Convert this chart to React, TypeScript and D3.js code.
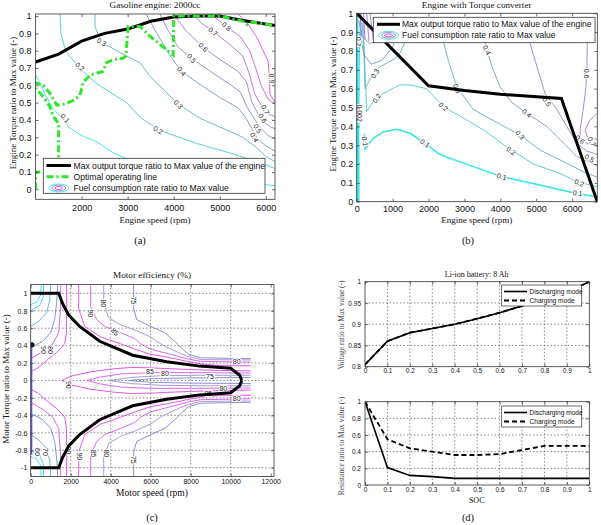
import React, { useEffect, useRef } from 'react';
import * as d3 from 'd3';

type Pt = [number, number];
type Lbl = { at: Pt; t: string; a: number };

// ---------- (a) Gasoline engine: 2000cc  [rpm, torque ratio] ----------
const engineMaxTorque: Pt[] = [
  [1000, 0.735], [1500, 0.78], [2000, 0.855], [2500, 0.9], [3000, 0.925],
  [3500, 0.97], [4000, 0.995], [4500, 1.0], [5000, 1.0], [5500, 0.975], [6200, 0.945],
];
const optimalLine: Pt[] = [
  [1000, 0], [1000, 0.1], [1500, 0.1], [1500, 0.38], [1384, 0.42], [1312, 0.477],
  [1167, 0.534], [1000, 0.583], [1000, 0.615], [1167, 0.6], [1312, 0.554], [1460, 0.486],
  [1600, 0.49], [1800, 0.51], [1960, 0.54], [2035, 0.62], [2200, 0.66], [2460, 0.68],
  [2540, 0.73], [2700, 0.75], [2900, 0.756], [2960, 0.77], [3010, 0.94], [3265, 0.94],
  [3500, 0.88], [3987, 0.775], [4000, 1.0], [4500, 1.0], [5000, 1.0], [5500, 0.97],
  [5600, 0.95], [5700, 0.965], [6200, 0.945],
];
const fuelA01: Pt[] = [[1000, 0.66], [1150, 0.58], [1384, 0.46], [1640, 0.39], [1710, 0.36], [2000, 0.31], [2325, 0.275], [2690, 0.21], [3200, 0.15], [4000, 0.1], [5000, 0.06], [6200, 0.02]];
const fuelA02: Pt[] = [[1530, 1.012], [1550, 0.9], [1650, 0.8], [1800, 0.75], [1960, 0.7], [2325, 0.61], [2976, 0.5], [3300, 0.41], [3698, 0.34], [4495, 0.265], [5217, 0.21], [5800, 0.16], [6200, 0.12]];
const fuelA03: Pt[] = [[2290, 1.012], [2290, 0.94], [2430, 0.85], [2760, 0.8], [3265, 0.73], [3490, 0.65], [3800, 0.57], [4100, 0.49], [4570, 0.41], [5000, 0.36], [5500, 0.3], [5800, 0.24], [6000, 0.19], [6200, 0.16]];
const fuelA04: Pt[] = [[3400, 1.012], [3590, 0.92], [3900, 0.78], [4169, 0.68], [4600, 0.6], [5000, 0.53], [5400, 0.47], [5550, 0.42], [5800, 0.3], [6000, 0.25], [6200, 0.22]];
const fuelA05: Pt[] = [[3700, 1.012], [3850, 0.93], [4100, 0.82], [4386, 0.756], [4800, 0.68], [5200, 0.61], [5450, 0.56], [5600, 0.47], [5868, 0.36], [6050, 0.31], [6200, 0.29]];
const fuelA06: Pt[] = [[4000, 1.012], [4250, 0.92], [4640, 0.82], [5000, 0.75], [5400, 0.68], [5580, 0.62], [5700, 0.5], [5905, 0.4], [6100, 0.36], [6200, 0.35]];
const fuelA07: Pt[] = [[4400, 1.012], [4600, 0.96], [4860, 0.91], [5200, 0.84], [5500, 0.77], [5650, 0.66], [5760, 0.55], [5950, 0.46], [6100, 0.43], [6200, 0.42]];
const fuelA08: Pt[] = [[4800, 1.012], [5000, 0.97], [5145, 0.94], [5450, 0.88], [5650, 0.8], [5780, 0.7], [5900, 0.6], [6050, 0.52], [6200, 0.49]];
const fuelA09: Pt[] = [[5400, 1.012], [5600, 0.96], [5800, 0.88], [5940, 0.8], [6050, 0.74], [6080, 0.64], [6090, 0.55], [6200, 0.5]];
const fuelALabels: Lbl[] = [
  { at: [1640, 0.41], t: '0.1', a: 45 }, { at: [1963, 0.707], t: '0.2', a: 40 },
  { at: [3662, 0.342], t: '0.2', a: 30 }, { at: [2434, 0.85], t: '0.3', a: 30 },
  { at: [4100, 0.49], t: '0.3', a: 45 }, { at: [4169, 0.68], t: '0.4', a: 50 },
  { at: [5750, 0.3], t: '0.4', a: 60 }, { at: [4386, 0.756], t: '0.5', a: 50 },
  { at: [5820, 0.35], t: '0.5', a: 60 }, { at: [4640, 0.82], t: '0.6', a: 45 },
  { at: [5930, 0.41], t: '0.6', a: 60 }, { at: [4857, 0.91], t: '0.7', a: 40 },
  { at: [5990, 0.46], t: '0.7', a: 60 }, { at: [5145, 0.94], t: '0.8', a: 40 },
  { at: [6120, 0.64], t: '0.9', a: 90 },
];
const engineSpeedTicksA = [2000, 3000, 4000, 5000, 6000];
const torqueTicks = [0, 0.1, 0.2, 0.3, 0.4, 0.5, 0.6, 0.7, 0.8, 0.9, 1];

// ---------- (b) Engine with torque converter ----------
const tcMaxTorque: Pt[] = [[0, 1], [2000, 0.615], [3000, 0.59], [4000, 0.57], [5700, 0.548], [6700, 0]];
const fuelB002: Pt[] = [[20, 0], [18, 0.5], [25, 1]];
const fuelB01edge: Pt[] = [[60, 0], [55, 0.4], [70, 0.8], [120, 1]];
const fuelB01: Pt[] = [[215, 0.36], [231, 0.28], [463, 0.336], [742, 0.37], [1114, 0.384], [1485, 0.363], [1900, 0.31], [2320, 0.25], [3250, 0.186], [4040, 0.133], [5100, 0.089], [6030, 0.048], [6700, 0.025]];
const fuelB02: Pt[] = [[180, 0.95], [230, 0.7], [279, 0.48], [450, 0.53], [742, 0.575], [1206, 0.62], [1485, 0.62], [1950, 0.6], [2410, 0.505], [3064, 0.434], [3621, 0.37], [4178, 0.29], [4920, 0.2], [5663, 0.15], [6128, 0.106], [6700, 0.08]];
const fuelB03: Pt[] = [[150, 0.95], [200, 0.8], [231, 0.6], [400, 0.66], [649, 0.716], [1067, 0.76], [1206, 0.79], [1400, 0.87], [2000, 0.92], [2400, 0.86], [2550, 0.75], [2786, 0.61], [3248, 0.49], [4000, 0.41], [4549, 0.354], [5106, 0.274], [5850, 0.204], [6407, 0.15], [6700, 0.13]];
const fuelB04: Pt[] = [[3450, 0.9], [3574, 0.84], [3760, 0.72], [3992, 0.61], [4300, 0.53], [4735, 0.47], [5292, 0.4], [5663, 0.33], [6128, 0.24], [6700, 0.19]];
const fuelB05: Pt[] = [[4750, 0.9], [4827, 0.84], [5014, 0.72], [5245, 0.575], [5571, 0.49], [5850, 0.4], [6128, 0.31], [6400, 0.27], [6700, 0.25]];
const fuelB06: Pt[] = [[6450, 0.9], [6420, 0.84], [6410, 0.7], [6380, 0.6], [6300, 0.48], [6220, 0.38], [6230, 0.34], [6400, 0.31], [6700, 0.295]];
const fuelB07: Pt[] = [[6700, 0.47], [6480, 0.43], [6360, 0.38], [6420, 0.345], [6700, 0.33]];
const fuelBFan: { level: number; pts: Pt[] }[] = [
  { level: 0.9, pts: [[100, 1.0], [130, 0.87]] },
  { level: 0.8, pts: [[190, 1.0], [230, 0.86]] },
  { level: 0.7, pts: [[280, 1.0], [340, 0.85]] },
  { level: 0.6, pts: [[370, 1.0], [460, 0.86]] },
  { level: 0.5, pts: [[60, 0.96], [150, 0.88], [350, 0.84], [600, 0.85]] },
  { level: 0.4, pts: [[90, 0.9], [200, 0.78], [400, 0.73], [700, 0.75], [1000, 0.82], [1100, 0.88]] },
];
const fuelBLabels: Lbl[] = [
  { at: [1902, 0.31], t: '0.1', a: 35 }, { at: [4039, 0.133], t: '0.1', a: 18 },
  { at: [6150, 0.045], t: '0.1', a: 8 }, { at: [231, 0.32], t: '0.1', a: 80 },
  { at: [2412, 0.504], t: '0.2', a: 40 }, { at: [4300, 0.27], t: '0.2', a: 35 },
  { at: [6200, 0.1], t: '0.2', a: 22 }, { at: [557, 0.55], t: '0.2', a: -55 },
  { at: [510, 0.68], t: '0.3', a: -60 }, { at: [2790, 0.6], t: '0.3', a: 65 },
  { at: [4549, 0.354], t: '0.3', a: 45 }, { at: [3621, 0.805], t: '0.4', a: 65 },
  { at: [4735, 0.47], t: '0.4', a: 40 }, { at: [5292, 0.53], t: '0.5', a: 55 },
  { at: [6480, 0.23], t: '0.5', a: 30 }, { at: [6407, 0.68], t: '0.6', a: 90 },
  { at: [6220, 0.33], t: '0.6', a: 40 }, { at: [6546, 0.32], t: '0.7', a: 60 },
  { at: [60, 0.85], t: '0.2', a: 90 }, { at: [64, 0.47], t: '0.002', a: 90 },
];
const engineSpeedTicksB = [0, 1000, 2000, 3000, 4000, 5000, 6000];

// ---------- (c) Motor efficiency (%) ----------
const motorMaxTop: Pt[] = [[0, 1], [1400, 1], [1600, 0.88], [1900, 0.75], [2450, 0.62], [3450, 0.45], [5100, 0.29], [6800, 0.215], [8450, 0.165], [10000, 0.14], [10450, 0.06], [10550, 0]];
const motorMaxBottom: Pt[] = [[10550, 0], [10450, -0.06], [10000, -0.14], [8450, -0.165], [6800, -0.215], [5100, -0.29], [3450, -0.45], [2450, -0.62], [1900, -0.75], [1600, -0.88], [1400, -1], [0, -1]];
const effU90a: Pt[] = [[1800, 1.1], [1800, 0.85], [1790, 0.55], [1700, 0.42], [1300, 0.32], [900, 0.25], [400, 0.15], [0, 0.1]];
const effL90a: Pt[] = [[1800, -1.1], [1800, -0.85], [1790, -0.55], [1700, -0.42], [1300, -0.32], [900, -0.25], [400, -0.15], [0, -0.1]];
const effU90b: Pt[] = [[2400, 1.1], [2400, 0.82], [2700, 0.62], [3500, 0.5], [4500, 0.42], [5200, 0.36], [6000, 0.3], [7000, 0.26], [7800, 0.22], [8500, 0.19], [9500, 0.17], [11000, 0.17]];
const effL90b: Pt[] = [[2400, -1.1], [2400, -0.82], [2700, -0.62], [3500, -0.5], [4500, -0.42], [5200, -0.36], [6000, -0.3], [7000, -0.26], [7800, -0.22], [8500, -0.19], [9500, -0.17], [11000, -0.17]];
const effU85: Pt[] = [[3000, 1.1], [3000, 0.85], [3300, 0.7], [3700, 0.62], [4500, 0.55], [5200, 0.48], [5500, 0.42], [6000, 0.36], [7000, 0.3], [7800, 0.25], [8500, 0.22], [11000, 0.21]];
const effL85: Pt[] = [[3000, -1.1], [3000, -0.85], [3300, -0.7], [3700, -0.62], [4500, -0.55], [5200, -0.48], [5500, -0.42], [6000, -0.36], [7000, -0.3], [7800, -0.25], [8500, -0.22], [11000, -0.21]];
const effU80: Pt[] = [[3650, 1.1], [3650, 0.88], [3900, 0.72], [4500, 0.64], [5200, 0.58], [6000, 0.5], [6500, 0.42], [7000, 0.36], [7800, 0.28], [8500, 0.24], [11000, 0.235]];
const effL80: Pt[] = [[3650, -1.1], [3650, -0.88], [3900, -0.72], [4500, -0.64], [5200, -0.58], [6000, -0.5], [6500, -0.42], [7000, -0.36], [7800, -0.28], [8500, -0.24], [11000, -0.235]];
const effU75: Pt[] = [[5150, 1.1], [5150, 0.82], [5300, 0.7], [6000, 0.62], [6700, 0.55], [7200, 0.45], [7600, 0.36], [7900, 0.3], [8500, 0.26], [11000, 0.25]];
const effL75: Pt[] = [[5150, -1.1], [5150, -0.82], [5300, -0.7], [6000, -0.62], [6700, -0.55], [7200, -0.45], [7600, -0.36], [7900, -0.3], [8500, -0.26], [11000, -0.25]];
const effV90: Pt[] = [[11000, 0.11], [9500, 0.115], [8000, 0.125], [6000, 0.145], [5000, 0.15], [4000, 0.13], [3000, 0.1], [2000, 0.05], [1550, 0], [2000, -0.05], [3000, -0.1], [4000, -0.13], [5000, -0.15], [6000, -0.145], [8000, -0.125], [9500, -0.115], [11000, -0.11]];
const effV85: Pt[] = [[11000, 0.085], [8000, 0.09], [6000, 0.09], [4500, 0.075], [3500, 0.04], [2800, 0], [3500, -0.04], [4500, -0.075], [6000, -0.09], [8000, -0.09], [11000, -0.085]];
const effV80: Pt[] = [[11000, 0.06], [8500, 0.06], [6500, 0.055], [5000, 0.035], [3900, 0], [5000, -0.035], [6500, -0.055], [8500, -0.06], [11000, -0.06]];
const effV75: Pt[] = [[11000, 0.035], [8000, 0.03], [6000, 0.02], [4900, 0], [6000, -0.02], [8000, -0.03], [11000, -0.035]];
const effU80L: Pt[] = [[1500, 1.1], [1480, 0.8], [1400, 0.55], [1100, 0.42], [600, 0.33], [0, 0.25]];
const effL80L: Pt[] = [[1500, -1.1], [1480, -0.8], [1400, -0.55], [1100, -0.42], [600, -0.33], [0, -0.25]];
const effU70: Pt[] = [[1350, 1.1], [1300, 0.9], [1200, 0.7], [1000, 0.55], [600, 0.45], [200, 0.4], [0, 0.38]];
const effL70: Pt[] = [[1350, -1.1], [1300, -0.9], [1200, -0.7], [1000, -0.55], [600, -0.45], [200, -0.4], [0, -0.38]];
const effU60: Pt[] = [[1000, 1.1], [950, 0.92], [800, 0.78], [400, 0.68], [0, 0.62]];
const effL60: Pt[] = [[1000, -1.1], [950, -0.92], [800, -0.78], [400, -0.68], [0, -0.62]];
const effU50: Pt[] = [[650, 1.1], [620, 0.95], [450, 0.86], [0, 0.8]];
const effL50: Pt[] = [[650, -1.1], [620, -0.95], [450, -0.86], [0, -0.8]];
const effU40: Pt[] = [[520, 1.1], [500, 0.98], [300, 0.9], [0, 0.87]];
const effL40: Pt[] = [[520, -1.1], [500, -0.98], [300, -0.9], [0, -0.87]];
const effEdge: Pt[] = [[40, 0.42], [40, -0.85]];
const effLabels: Lbl[] = [
  { at: [2965, 0.77], t: '90', a: 90 }, { at: [3630, 0.885], t: '80', a: 90 },
  { at: [5130, 0.92], t: '75', a: 90 }, { at: [4215, 0.56], t: '85', a: 45 },
  { at: [630, 0.35], t: '90', a: 90 }, { at: [965, 0.35], t: '80', a: 90 },
  { at: [5965, 0.1], t: '85', a: 0 }, { at: [6715, 0.083], t: '80', a: 0 },
  { at: [8965, 0.044], t: '75', a: 0 }, { at: [10300, 0.216], t: '80', a: 0 },
  { at: [9630, -0.09], t: '80', a: 0 }, { at: [8880, -0.147], t: '85', a: 0 },
  { at: [10300, -0.204], t: '80', a: 0 }, { at: [1880, -0.05], t: '90', a: 90 },
  { at: [3800, -0.835], t: '80', a: 90 }, { at: [3130, -0.835], t: '85', a: 90 },
  { at: [2430, -0.87], t: '90', a: 90 }, { at: [5130, -0.91], t: '75', a: 90 },
  { at: [1880, -0.8], t: '90', a: 90 }, { at: [350, -0.82], t: '60', a: 90 },
  { at: [750, -0.82], t: '70', a: 90 },
];
const motorSpeedTicks = [0, 2000, 4000, 6000, 8000, 10000, 12000];
const motorTorqueTicks = [-1, -0.8, -0.6, -0.4, -0.2, 0, 0.2, 0.4, 0.6, 0.8, 1];

// ---------- (d) Li-ion battery: 8 Ah ----------
const soc = [0, 0.1, 0.2, 0.3, 0.4, 0.5, 0.6, 0.7, 0.8, 0.9, 1];
const voltageDischarge = [0.805, 0.86, 0.88, 0.89, 0.9, 0.913, 0.927, 0.943, 0.958, 0.975, 1.0];
const voltageCharge = [0.805, 0.86, 0.88, 0.89, 0.9, 0.913, 0.927, 0.943, 0.958, 0.975, 1.0];
const resistDischarge = [1.0, 0.21, 0.115, 0.1, 0.08, 0.08, 0.08, 0.08, 0.08, 0.08, 0.08];
const resistCharge = [1.0, 0.55, 0.44, 0.4, 0.36, 0.36, 0.37, 0.42, 0.47, 0.47, 0.47];
const voltageTicks = [0.8, 0.85, 0.9, 0.95, 1];
const resistTicks = [0, 0.2, 0.4, 0.6, 0.8, 1];

const W = 601;
const H = 525;
const SANS = '"Liberation Sans", Arial, sans-serif';
const SERIF = '"Liberation Serif", "Times New Roman", serif';

const fuelColor = d3.interpolateRgbBasis(['#2ee8e8', '#44cccc', '#5fb0c0', '#7c98c0', '#8a88bc', '#9c80cc', '#b070d4', '#c060d8', '#e448e4']);
const effColor: Record<string, string> = {
  '90': '#e044e8', '85': '#d45ae6', '80': '#a090d0', '75': '#7c86c8',
  '70': '#6a8ed4', '60': '#50aed8', '50': '#38d4e4', '40': '#28e8e8',
};

function axes(g: any, x: any, y: any, xt: number[], yt: number[], o: any) {
  const [xl, xr] = x.range();
  const [yb, ytop] = y.range();
  const style = (s: any) => {
    s.select('.domain').remove();
    s.selectAll('line').attr('stroke', '#333').attr('stroke-width', 0.7);
    s.selectAll('text').attr('font-family', SANS).attr('font-size', o.fs).attr('fill', '#111');
  };
  g.append('g').attr('transform', `translate(0,${yb})`)
    .call(d3.axisBottom(x).tickValues(xt).tickSize(-3).tickPadding(o.px).tickFormat((d: any) => String(d)))
    .call(style);
  g.append('g').attr('transform', `translate(0,${ytop})`)
    .call(d3.axisTop(x).tickValues(xt).tickSize(-3).tickFormat(() => ''))
    .call(style);
  g.append('g').attr('transform', `translate(${xl},0)`)
    .call(d3.axisLeft(y).tickValues(yt).tickSize(-3).tickPadding(o.py).tickFormat((d: any) => String(d)))
    .call(style);
  g.append('g').attr('transform', `translate(${xr},0)`)
    .call(d3.axisRight(y).tickValues(yt).tickSize(-3).tickFormat(() => ''))
    .call(style);
  g.append('rect')
    .attr('x', xl).attr('y', ytop).attr('width', xr - xl).attr('height', yb - ytop)
    .attr('fill', 'none').attr('stroke', '#333').attr('stroke-width', 0.8);
}

function grid(g: any, x: any, y: any, xt: number[], yt: number[]) {
  const [xl, xr] = x.range();
  const [yb, ytop] = y.range();
  g.append('g').selectAll('line').data(xt).join('line')
    .attr('x1', (d: number) => x(d)).attr('x2', (d: number) => x(d))
    .attr('y1', ytop).attr('y2', yb)
    .attr('stroke', '#555').attr('stroke-width', 0.7).attr('stroke-dasharray', '1.5,2');
  g.append('g').selectAll('line').data(yt).join('line')
    .attr('x1', xl).attr('x2', xr)
    .attr('y1', (d: number) => y(d)).attr('y2', (d: number) => y(d))
    .attr('stroke', '#555').attr('stroke-width', 0.7).attr('stroke-dasharray', '1.5,2');
}

function clip(svg: any, id: string, x: any, y: any) {
  const [xl, xr] = x.range();
  const [yb, ytop] = y.range();
  svg.append('clipPath').attr('id', id).append('rect')
    .attr('x', xl).attr('y', ytop).attr('width', xr - xl).attr('height', yb - ytop);
  return svg.append('g').attr('clip-path', `url(#${id})`);
}

function labels(g: any, x: any, y: any, list: Lbl[], fs: number) {
  g.append('g').selectAll('text').data(list).join('text')
    .attr('transform', (d: Lbl) => `translate(${x(d.at[0])},${y(d.at[1])}) rotate(${d.a})`)
    .attr('text-anchor', 'middle').attr('dy', '0.35em')
    .attr('font-family', SANS).attr('font-size', fs).attr('fill', '#222')
    .attr('stroke', '#fff').attr('stroke-width', 2.2).attr('paint-order', 'stroke')
    .text((d: Lbl) => d.t);
}

function text(g: any, x: number, y: number, s: string, fs: number, opts: any = {}) {
  const t = g.append('text')
    .attr('x', x).attr('y', y)
    .attr('text-anchor', opts.anchor || 'middle')
    .attr('font-family', opts.family || SERIF)
    .attr('font-size', fs).attr('fill', opts.fill || '#111')
    .text(s);
  if (opts.rotate) t.attr('transform', `rotate(-90,${x},${y})`);
  if (opts.dy) t.attr('dy', opts.dy);
  return t;
}

function contourIcon(g: any, cx: number, cy: number) {
  g.append('ellipse').attr('cx', cx).attr('cy', cy).attr('rx', 10).attr('ry', 4).attr('fill', 'none').attr('stroke', '#3ee0e8').attr('stroke-width', 0.9);
  g.append('ellipse').attr('cx', cx).attr('cy', cy).attr('rx', 7).attr('ry', 2.8).attr('fill', 'none').attr('stroke', '#8a8ad0').attr('stroke-width', 0.9);
  g.append('ellipse').attr('cx', cx).attr('cy', cy).attr('rx', 3.8).attr('ry', 1.5).attr('fill', 'none').attr('stroke', '#e040e0').attr('stroke-width', 0.9);
}

const App = () => {
  const svgRef = useRef<SVGSVGElement>(null);

  useEffect(() => {
    const svg = d3.select(svgRef.current);
    svg.selectAll('*').remove();
    svg.append('rect').attr('width', W).attr('height', H).attr('fill', '#fff');

    // ================= (a) =================
    const ax = d3.scaleLinear().domain([1000, 6200]).range([35.6, 275]);
    const ay = d3.scaleLinear().domain([-0.058, 1.012]).range([199.3, 14]);
    const la = d3.line<Pt>().x(d => ax(d[0])).y(d => ay(d[1]));
    const ga = clip(svg, 'clip-a', ax, ay);
    const fuelA = [fuelA01, fuelA02, fuelA03, fuelA04, fuelA05, fuelA06, fuelA07, fuelA08, fuelA09];
    fuelA.forEach((pts, i) => {
      ga.append('path').datum(pts).attr('d', la).attr('fill', 'none')
        .attr('stroke', fuelColor(i / 8)).attr('stroke-width', 0.9);
    });
    labels(ga, ax, ay, fuelALabels, 7);
    ga.append('path').datum(engineMaxTorque).attr('d', la).attr('fill', 'none')
      .attr('stroke', '#000').attr('stroke-width', 3);
    ga.append('path').datum(optimalLine).attr('d', la).attr('fill', 'none')
      .attr('stroke', '#2ee62e').attr('stroke-width', 3).attr('stroke-dasharray', '7,3,2,3');
    axes(svg, ax, ay, engineSpeedTicksA, torqueTicks, { fs: 9, px: 5.5, py: 4 });
    text(svg, 155, 8, 'Gasoline engine: 2000cc', 9.2);
    text(svg, 155, 223, 'Engine speed (rpm)', 9);
    text(svg, 16, 103, 'Engine Torque ratio to Max value (-)', 9, { rotate: true });
    text(svg, 140, 244, '(a)', 10.5);
    // legend (a)
    const lga = svg.append('g');
    lga.append('rect').attr('x', 43.3).attr('y', 158.3).attr('width', 221.7).attr('height', 35)
      .attr('fill', '#fff').attr('stroke', '#333').attr('stroke-width', 0.8);
    lga.append('line').attr('x1', 46.5).attr('x2', 71).attr('y1', 165.5).attr('y2', 165.5)
      .attr('stroke', '#000').attr('stroke-width', 3);
    lga.append('line').attr('x1', 46.5).attr('x2', 71).attr('y1', 176.8).attr('y2', 176.8)
      .attr('stroke', '#2ee62e').attr('stroke-width', 3).attr('stroke-dasharray', '7,3,2,3');
    contourIcon(lga, 58.7, 188);
    text(lga, 73.5, 165.5, 'Max output torque ratio to Max value of the engine', 8.6, { anchor: 'start', family: SANS, dy: '0.35em' });
    text(lga, 73.5, 176.8, 'Optimal operating line', 8.6, { anchor: 'start', family: SANS, dy: '0.35em' });
    text(lga, 73.5, 188, 'Fuel consumption rate ratio to Max value', 8.6, { anchor: 'start', family: SANS, dy: '0.35em' });

    // ================= (b) =================
    const bx = d3.scaleLinear().domain([0, 6700]).range([356.7, 597.3]);
    const by = d3.scaleLinear().domain([0, 1]).range([201.7, 13.3]);
    const lb = d3.line<Pt>().x(d => bx(d[0])).y(d => by(d[1]));
    const gb = clip(svg, 'clip-b', bx, by);
    const fuelB: { level: number; pts: Pt[] }[] = [
      { level: 0.02, pts: fuelB002 }, { level: 0.05, pts: fuelB01edge },
      { level: 0.1, pts: fuelB01 }, { level: 0.2, pts: fuelB02 }, { level: 0.3, pts: fuelB03 },
      { level: 0.4, pts: fuelB04 }, { level: 0.5, pts: fuelB05 }, { level: 0.6, pts: fuelB06 },
      { level: 0.7, pts: fuelB07 }, ...fuelBFan,
    ];
    fuelB.forEach(c => {
      gb.append('path').datum(c.pts).attr('d', lb).attr('fill', 'none')
        .attr('stroke', fuelColor(Math.max(0, (c.level - 0.1) / 0.8)))
        .attr('stroke-width', c.level <= 0.1 ? 1.5 : 0.9);
    });
    labels(gb, bx, by, fuelBLabels, 7);
    gb.append('path').datum(tcMaxTorque).attr('d', lb).attr('fill', 'none')
      .attr('stroke', '#000').attr('stroke-width', 3);
    axes(svg, bx, by, engineSpeedTicksB, torqueTicks, { fs: 9, px: 3.5, py: 3.4 });
    text(svg, 476.7, 8, 'Engine with Torque converter', 9.2);
    text(svg, 476.7, 223, 'Engine speed (rpm)', 9);
    text(svg, 336, 104, 'Engine Torque ratio to Max. value (-)', 9, { rotate: true });
    text(svg, 468, 244, '(b)', 10.5);
    const lgb = svg.append('g');
    lgb.append('rect').attr('x', 373.3).attr('y', 17.3).attr('width', 221.7).attr('height', 25.4)
      .attr('fill', '#fff').attr('stroke', '#333').attr('stroke-width', 0.8);
    lgb.append('line').attr('x1', 377).attr('x2', 400).attr('y1', 24.3).attr('y2', 24.3)
      .attr('stroke', '#000').attr('stroke-width', 3);
    contourIcon(lgb, 388.5, 35.3);
    text(lgb, 402, 24.3, 'Max output torque ratio to Max value of the engine', 8.5, { anchor: 'start', family: SANS, dy: '0.35em' });
    text(lgb, 402, 35.3, 'Fuel consumption rate ratio to Max value', 8.5, { anchor: 'start', family: SANS, dy: '0.35em' });

    // ================= (c) =================
    const cx = d3.scaleLinear().domain([0, 12165]).range([30.7, 274]);
    const cy = d3.scaleLinear().domain([-1.1, 1.1]).range([476.4, 284.6]);
    const lc = d3.line<Pt>().x(d => cx(d[0])).y(d => cy(d[1]));
    grid(svg, cx, cy, [2000, 4000, 6000, 8000, 10000], motorTorqueTicks);
    const gc = clip(svg, 'clip-c', cx, cy);
    const eff: { lv: string; pts: Pt[] }[] = [
      { lv: '40', pts: effU40 }, { lv: '40', pts: effL40 },
      { lv: '50', pts: effU50 }, { lv: '50', pts: effL50 },
      { lv: '60', pts: effU60 }, { lv: '60', pts: effL60 },
      { lv: '70', pts: effU70 }, { lv: '70', pts: effL70 },
      { lv: '85', pts: effU80L }, { lv: '85', pts: effL80L },
      { lv: '90', pts: effU90a }, { lv: '90', pts: effL90a },
      { lv: '90', pts: effU90b }, { lv: '90', pts: effL90b },
      { lv: '85', pts: effU85 }, { lv: '85', pts: effL85 },
      { lv: '80', pts: effU80 }, { lv: '80', pts: effL80 },
      { lv: '75', pts: effU75 }, { lv: '75', pts: effL75 },
      { lv: '90', pts: effV90 }, { lv: '85', pts: effV85 },
      { lv: '80', pts: effV80 }, { lv: '75', pts: effV75 },
    ];
    eff.forEach(c => {
      gc.append('path').datum(c.pts).attr('d', lc).attr('fill', 'none')
        .attr('stroke', effColor[c.lv]).attr('stroke-width', 0.9);
    });
    gc.append('path').datum(effEdge).attr('d', lc).attr('fill', 'none')
      .attr('stroke', '#5a50e0').attr('stroke-width', 1.6);
    labels(gc, cx, cy, effLabels, 7);
    gc.append('circle').attr('cx', cx(60)).attr('cy', cy(0.41)).attr('r', 2.6).attr('fill', '#111');
    [motorMaxTop, motorMaxBottom].forEach(pts => {
      gc.append('path').datum(pts).attr('d', lc).attr('fill', 'none')
        .attr('stroke', '#000').attr('stroke-width', 3);
    });
    axes(svg, cx, cy, motorSpeedTicks, motorTorqueTicks, { fs: 7, px: 2.8, py: 3.4 });
    text(svg, 152, 278, 'Motor efficiency (%)', 9.2);
    text(svg, 152, 496, 'Motor speed (rpm)', 9.5);
    text(svg, 9, 379, 'Motor Torque ratio to Max value (-)', 9, { rotate: true });
    text(svg, 152, 521, '(c)', 10.5);

    // ================= (d) =================
    const dx = d3.scaleLinear().domain([0, 1]).range([365, 589.3]);
    const dyT = d3.scaleLinear().domain([0.8, 1]).range([366.7, 281.7]);
    const dyB = d3.scaleLinear().domain([0, 1]).range([485, 401.7]);
    const gridX = soc.slice(1, -1);
    grid(svg, dx, dyT, gridX, voltageTicks.slice(1, -1));
    grid(svg, dx, dyB, gridX, resistTicks.slice(1, -1));
    const lineT = d3.line<number>().x((_, i) => dx(soc[i])).y(d => dyT(d));
    const lineB = d3.line<number>().x((_, i) => dx(soc[i])).y(d => dyB(d));
    const gdT = clip(svg, 'clip-dt', dx, dyT);
    const gdB = clip(svg, 'clip-db', dx, dyB);
    gdT.append('path').datum(voltageCharge).attr('d', lineT).attr('fill', 'none')
      .attr('stroke', '#000').attr('stroke-width', 1.8).attr('stroke-dasharray', '5,3');
    gdT.append('path').datum(voltageDischarge).attr('d', lineT).attr('fill', 'none')
      .attr('stroke', '#000').attr('stroke-width', 1.6);
    gdB.append('path').datum(resistCharge).attr('d', lineB).attr('fill', 'none')
      .attr('stroke', '#000').attr('stroke-width', 1.8).attr('stroke-dasharray', '5,3');
    gdB.append('path').datum(resistDischarge).attr('d', lineB).attr('fill', 'none')
      .attr('stroke', '#000').attr('stroke-width', 1.6);
    axes(svg, dx, dyT, soc, voltageTicks, { fs: 6.5, px: 2, py: 4 });
    axes(svg, dx, dyB, soc, resistTicks, { fs: 6.5, px: 2.7, py: 4 });
    text(svg, 476.7, 277, 'Li-ion battery: 8 Ah', 8);
    text(svg, 476.7, 503, 'SOC', 8);
    text(svg, 344, 325, 'Voltage ratio to Max value (-)', 7.5, { rotate: true, fill: '#444' });
    text(svg, 344, 446, 'Resistance ratio to Max value (-)', 7.5, { rotate: true, fill: '#444' });
    text(svg, 468, 521, '(d)', 10.5);
    const legendD = (y0: number) => {
      const lg = svg.append('g');
      lg.append('rect').attr('x', 501.7).attr('y', y0).attr('width', 80).attr('height', 21)
        .attr('fill', '#fff').attr('stroke', '#333').attr('stroke-width', 0.7);
      lg.append('line').attr('x1', 504).attr('x2', 527).attr('y1', y0 + 6.5).attr('y2', y0 + 6.5)
        .attr('stroke', '#000').attr('stroke-width', 1.6);
      lg.append('line').attr('x1', 504).attr('x2', 527).attr('y1', y0 + 15.5).attr('y2', y0 + 15.5)
        .attr('stroke', '#000').attr('stroke-width', 1.8).attr('stroke-dasharray', '5,3');
      text(lg, 529.5, y0 + 6.5, 'Discharging mode', 6.6, { anchor: 'start', family: SANS, dy: '0.35em' });
      text(lg, 529.5, y0 + 15.5, 'Charging mode', 6.6, { anchor: 'start', family: SANS, dy: '0.35em' });
    };
    legendD(285);
    legendD(406);
  }, []);

  return (
    <svg ref={svgRef} width={W} height={H} style={{ position: 'absolute', left: 0, top: 0 }} />
  );
};

export default App;
